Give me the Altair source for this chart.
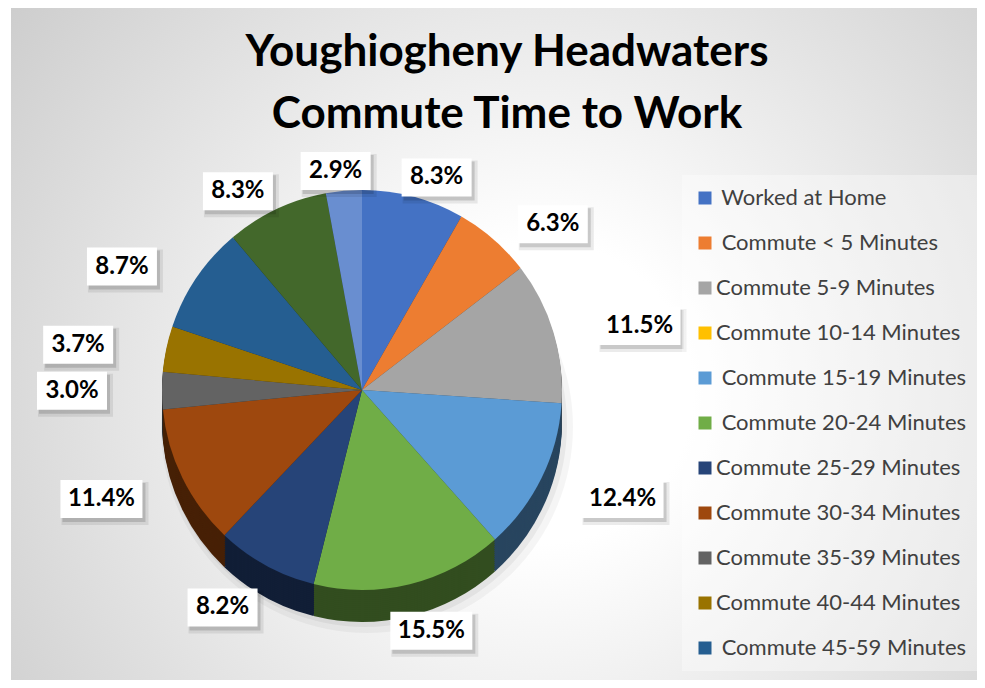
import altair as alt
import pandas as pd

# ---- data (some legend names carry a leading space, as in the original) ----
SP = "\u200b\u00a0"
categories = [
    SP + "Worked at Home", SP + "Commute < 5 Minutes", "Commute 5-9 Minutes",
    "Commute 10-14 Minutes", SP + "Commute 15-19 Minutes", SP + "Commute 20-24 Minutes",
    "Commute 25-29 Minutes", "Commute 30-34 Minutes", "Commute 35-39 Minutes",
    "Commute 40-44 Minutes", SP + "Commute 45-59 Minutes", "Commute 60-89 Minutes",
    "Commute 90+ Minutes",
]
values = [8.3, 6.3, 11.5, 0.0, 12.4, 15.5, 8.2, 11.4, 3.0, 3.7, 8.7, 8.3, 2.9]
legend_shown = categories[:11]
title_lines = ["Youghiogheny Headwaters", "Commute Time to Work"]

# ---- styles ----
colors = ["#4472C4", "#ED7D31", "#A5A5A5", "#FFC000", "#5B9BD5", "#70AD47",
          "#264478", "#9E480E", "#636363", "#997300", "#255E91", "#43682B",
          "#698ED0"]


def darken(h, f=0.45):
    r, g, b = int(h[1:3], 16), int(h[3:5], 16), int(h[5:7], 16)
    return "#%02x%02x%02x" % (int(r * f), int(g * f), int(b * f))


side_colors = [darken(c) for c in colors]

W, H = 969, 672
CX, CY, R, T = 354, 382, 200, 32
RX, RY_TOP, RY_BOT, T_LAB = 290, 220, 232, 16

df = pd.DataFrame({"cat": categories, "value": values, "idx": list(range(len(categories)))})
one = pd.DataFrame({"a": [0]})

base = alt.Chart(df)

bg = alt.Chart(one).mark_rect(
    color=alt.Gradient(gradient="radial",
                       stops=[alt.GradientStop(color="#ffffff", offset=0),
                              alt.GradientStop(color="#ffffff", offset=0.2),
                              alt.GradientStop(color="#c4c4c4", offset=1)],
                       x1=0.55, y1=0.55, x2=0.55, y2=0.55, r1=0, r2=0.78)
).encode(x=alt.value(3), x2=alt.value(W), y=alt.value(0), y2=alt.value(H))

title = alt.Chart(one).mark_text(
    text=title_lines, font="Lato", fontWeight="bold", fontSize=44,
    color="#000000", align="center", baseline="alphabetic", lineHeight=62
).encode(x=alt.value(499), y=alt.value(58))

shadow1 = alt.Chart(one).mark_arc(radius=R + 6, theta=0, theta2=6.2832, color="#000000",
                                  opacity=0.04).encode(x=alt.value(CX + 5), y=alt.value(CY + T + 5))
shadow2 = alt.Chart(one).mark_arc(radius=R + 2, theta=0, theta2=6.2832, color="#000000",
                                  opacity=0.05).encode(x=alt.value(CX + 3), y=alt.value(CY + T + 3))

side_scale = alt.Scale(domain=categories, range=side_colors)
side_layers = []
for d in range(T, 0, -2):
    side_layers.append(
        base.mark_arc(radius=R, strokeWidth=0).encode(
            theta=alt.Theta("value:Q", stack=True),
            order=alt.Order("idx:Q"),
            x=alt.value(CX),
            y=alt.value(CY + d),
            color=alt.Color("cat:N", scale=side_scale, legend=None),
        )
    )

top = base.mark_arc(radius=R, strokeWidth=0).encode(
    theta=alt.Theta("value:Q", stack=True),
    order=alt.Order("idx:Q"),
    x=alt.value(CX),
    y=alt.value(CY),
    color=alt.Color("cat:N", scale=alt.Scale(domain=categories, range=colors),
                    legend=alt.Legend(
                        values=legend_shown, title=None, orient="none",
                        legendX=674, legendY=167, fillColor="rgba(255,255,255,0.35)",
                        padding=12, symbolType="square", symbolSize=169,
                        symbolStrokeWidth=0, labelFont="Lato", labelFontSize=22,
                        labelColor="#404040", rowPadding=23, labelLimit=400,
                        labelOffset=0,
                    )),
)

lab = (base
       .transform_joinaggregate(total="sum(value)")
       .transform_window(cum="sum(value)", sort=[alt.SortField("idx")], frame=[None, 0])
       .transform_filter("datum.value > 0")
       .transform_calculate(mid="(datum.cum - datum.value / 2) / datum.total * 2 * PI")
       .transform_calculate(
           txt="format(datum.value, '.1f') + '%'",
           lx=f"{CX} + {RX} * sin(datum.mid)",
           ly=f"cos(datum.mid) >= 0 ? {CY} - {RY_TOP} * cos(datum.mid) : {CY} - ({RY_BOT} + {T_LAB}) * cos(datum.mid)")
       .transform_calculate(bw="22 + 12 * length(datum.txt)")
       .transform_calculate(bx0="datum.lx - datum.bw / 2", bx1="datum.lx + datum.bw / 2",
                            by0="datum.ly - 19", by1="datum.ly + 19"))

box_shadow_a = lab.transform_calculate(
    sx0="datum.bx0 + 1", sx1="datum.bx1 + 6", sy0="datum.by0 + 2", sy1="datum.by1 + 7"
).mark_rect(color="#000000", opacity=0.08).encode(
    x=alt.X("sx0:Q", scale=None), x2="sx1:Q", y=alt.Y("sy0:Q", scale=None), y2="sy1:Q")
box_shadow_b = lab.transform_calculate(
    sx0="datum.bx0 + 2", sx1="datum.bx1 + 3", sy0="datum.by0 + 3", sy1="datum.by1 + 4"
).mark_rect(color="#000000", opacity=0.14).encode(
    x=alt.X("sx0:Q", scale=None), x2="sx1:Q", y=alt.Y("sy0:Q", scale=None), y2="sy1:Q")
box = lab.mark_rect(color="#ffffff").encode(
    x=alt.X("bx0:Q", scale=None), x2="bx1:Q", y=alt.Y("by0:Q", scale=None), y2="by1:Q")
txt = lab.mark_text(font="Lato", fontWeight="bold", fontSize=24, color="#000000",
                    align="center", baseline="middle").encode(
    x=alt.X("lx:Q", scale=None), y=alt.Y("ly:Q", scale=None), text="txt:N")

chart = alt.layer(bg, title, shadow1, shadow2, *side_layers, top,
                  box_shadow_a, box_shadow_b, box, txt).resolve_scale(
    color="independent"
).properties(
    width=W, height=H, autosize=alt.AutoSizeParams(type="none"), padding=0
).configure_view(stroke=None)

chart.save("out.html", embed_options={"renderer": "svg", "actions": False})
